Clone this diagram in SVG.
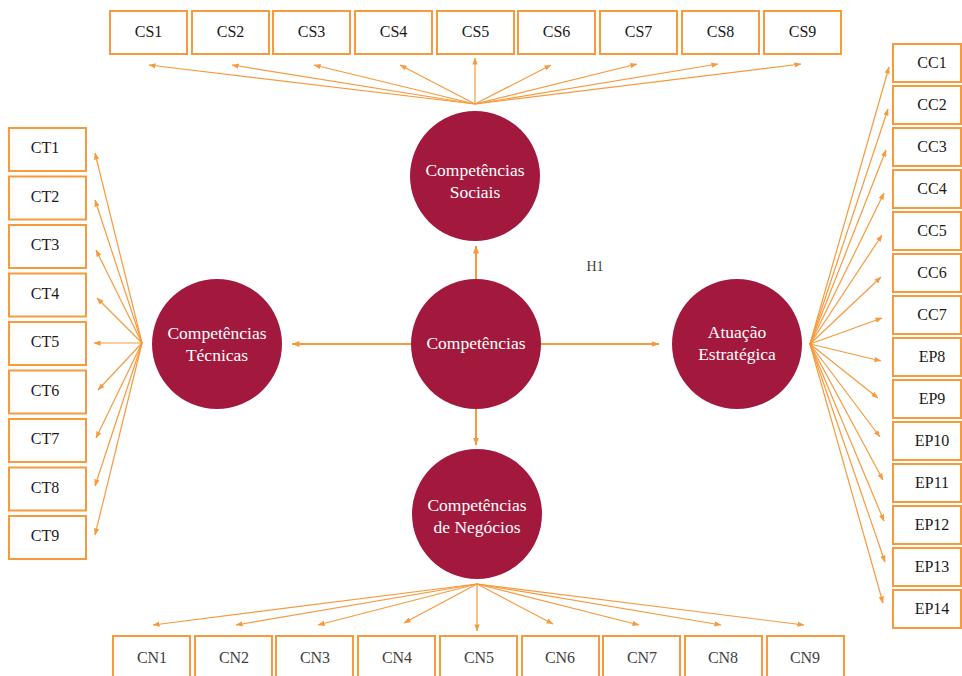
<svg xmlns="http://www.w3.org/2000/svg" width="962" height="676" viewBox="0 0 962 676">
<defs>
<marker id="ah" viewBox="0 0 8 6" refX="7.5" refY="3" markerWidth="7" markerHeight="6" markerUnits="userSpaceOnUse" orient="auto">
<path d="M0,0 L8,3 L0,6 z" fill="#F79A3E"/>
</marker>
<marker id="ahb" viewBox="0 0 8 6" refX="7.5" refY="3" markerWidth="8" markerHeight="7" markerUnits="userSpaceOnUse" orient="auto">
<path d="M0,0 L8,3 L0,6 z" fill="#F79A3E"/>
</marker>
<style>
.box{fill:#fff;stroke:#F79A3E;stroke-width:2}
.bt{font-family:"Liberation Serif","Times New Roman",serif;font-size:16px;fill:#1a1a1a;text-anchor:middle}
.bg{fill:#404040}
.c{fill:#A3193D}
.ct{font-family:"Liberation Serif","Times New Roman",serif;font-size:17.5px;fill:#fff;text-anchor:middle}
.f{stroke:#F79A3E;stroke-width:1.2;fill:none;marker-end:url(#ah)}
.m{stroke:#F79A3E;stroke-width:2;fill:none;marker-end:url(#ahb)}
.h{font-family:"Liberation Serif","Times New Roman",serif;font-size:14px;fill:#404040}
</style>
</defs>
<rect width="962" height="676" fill="#fff"/>
<g id="connectors">
<line class="m" x1="476" y1="279" x2="476" y2="246"/>
<line class="m" x1="411" y1="344" x2="292" y2="344"/>
<line class="m" x1="541" y1="344" x2="659" y2="344"/>
<line class="m" x1="476" y1="408" x2="476" y2="445"/>
<line class="f" x1="475" y1="104" x2="149" y2="65"/>
<line class="f" x1="475" y1="104" x2="232" y2="65"/>
<line class="f" x1="475" y1="104" x2="314" y2="65"/>
<line class="f" x1="475" y1="104" x2="400" y2="65"/>
<line class="f" x1="475" y1="104" x2="475" y2="58"/>
<line class="f" x1="475" y1="104" x2="551" y2="65"/>
<line class="f" x1="475" y1="104" x2="637" y2="64"/>
<line class="f" x1="475" y1="104" x2="718" y2="64"/>
<line class="f" x1="475" y1="104" x2="801" y2="64"/>
<line class="f" x1="142" y1="343" x2="95" y2="153"/>
<line class="f" x1="142" y1="343" x2="95" y2="200"/>
<line class="f" x1="142" y1="343" x2="96" y2="250"/>
<line class="f" x1="142" y1="343" x2="97" y2="298"/>
<line class="f" x1="142" y1="343" x2="94" y2="343"/>
<line class="f" x1="142" y1="343" x2="98" y2="390"/>
<line class="f" x1="142" y1="343" x2="96" y2="438"/>
<line class="f" x1="142" y1="343" x2="95" y2="486"/>
<line class="f" x1="142" y1="343" x2="95" y2="535"/>
<line class="f" x1="810" y1="344" x2="889" y2="67"/>
<line class="f" x1="810" y1="344" x2="888" y2="109"/>
<line class="f" x1="810" y1="344" x2="886" y2="150"/>
<line class="f" x1="810" y1="344" x2="884" y2="193"/>
<line class="f" x1="810" y1="344" x2="882" y2="235"/>
<line class="f" x1="810" y1="344" x2="881" y2="277"/>
<line class="f" x1="810" y1="344" x2="882" y2="318"/>
<line class="f" x1="810" y1="344" x2="881" y2="361"/>
<line class="f" x1="810" y1="344" x2="878" y2="398"/>
<line class="f" x1="810" y1="344" x2="880" y2="437"/>
<line class="f" x1="810" y1="344" x2="883" y2="480"/>
<line class="f" x1="810" y1="344" x2="884" y2="521"/>
<line class="f" x1="810" y1="344" x2="885" y2="562"/>
<line class="f" x1="810" y1="344" x2="883" y2="603"/>
<line class="f" x1="477" y1="584" x2="153" y2="625"/>
<line class="f" x1="477" y1="584" x2="236" y2="625"/>
<line class="f" x1="477" y1="584" x2="318" y2="625"/>
<line class="f" x1="477" y1="584" x2="404" y2="623"/>
<line class="f" x1="477" y1="584" x2="477" y2="631"/>
<line class="f" x1="477" y1="584" x2="553" y2="624"/>
<line class="f" x1="477" y1="584" x2="639" y2="625"/>
<line class="f" x1="477" y1="584" x2="721" y2="625"/>
<line class="f" x1="477" y1="584" x2="804" y2="625"/>
</g>
<g id="circles">
<g id="n-competencias"><circle class="c" cx="476" cy="344" r="65"/><text class="ct" x="476" y="349">Competências</text></g>
<g id="n-sociais"><circle class="c" cx="475" cy="176" r="65"/><text class="ct" x="475" y="176">Competências</text><text class="ct" x="475" y="198">Sociais</text></g>
<g id="n-tecnicas"><circle class="c" cx="217" cy="344" r="65"/><text class="ct" x="217" y="339">Competências</text><text class="ct" x="217" y="361">Técnicas</text></g>
<g id="n-atuacao"><circle class="c" cx="737" cy="344" r="65"/><text class="ct" x="737" y="338">Atuação</text><text class="ct" x="737" y="360">Estratégica</text></g>
<g id="n-negocios"><circle class="c" cx="477" cy="514" r="65"/><text class="ct" x="477" y="511">Competências</text><text class="ct" x="477" y="533">de Negócios</text></g>
</g>
<text class="h" x="595" y="271" text-anchor="middle">H1</text>
<g id="top">
<g id="CS1"><rect class="box" x="110" y="11" width="77" height="43"/><text class="bt" x="148.5" y="37">CS1</text></g>
<g id="CS2"><rect class="box" x="192" y="11" width="77" height="43"/><text class="bt" x="230.5" y="37">CS2</text></g>
<g id="CS3"><rect class="box" x="273" y="11" width="77" height="43"/><text class="bt" x="311.5" y="37">CS3</text></g>
<g id="CS4"><rect class="box" x="355" y="11" width="77" height="43"/><text class="bt" x="393.5" y="37">CS4</text></g>
<g id="CS5"><rect class="box" x="437" y="11" width="77" height="43"/><text class="bt" x="475.5" y="37">CS5</text></g>
<g id="CS6"><rect class="box" x="518" y="11" width="77" height="43"/><text class="bt" x="556.5" y="37">CS6</text></g>
<g id="CS7"><rect class="box" x="600" y="11" width="77" height="43"/><text class="bt" x="638.5" y="37">CS7</text></g>
<g id="CS8"><rect class="box" x="682" y="11" width="77" height="43"/><text class="bt" x="720.5" y="37">CS8</text></g>
<g id="CS9"><rect class="box" x="764" y="11" width="77" height="43"/><text class="bt" x="802.5" y="37">CS9</text></g>
</g>
<g id="left">
<g id="CT1"><rect class="box" x="9" y="128" width="77" height="43"/><text class="bt" x="45" y="153">CT1</text></g>
<g id="CT2"><rect class="box" x="9" y="176.5" width="77" height="43"/><text class="bt" x="45" y="201.5">CT2</text></g>
<g id="CT3"><rect class="box" x="9" y="225" width="77" height="43"/><text class="bt" x="45" y="250">CT3</text></g>
<g id="CT4"><rect class="box" x="9" y="273.5" width="77" height="43"/><text class="bt" x="45" y="298.5">CT4</text></g>
<g id="CT5"><rect class="box" x="9" y="322" width="77" height="43"/><text class="bt" x="45" y="347">CT5</text></g>
<g id="CT6"><rect class="box" x="9" y="370.5" width="77" height="43"/><text class="bt" x="45" y="395.5">CT6</text></g>
<g id="CT7"><rect class="box" x="9" y="419" width="77" height="43"/><text class="bt" x="45" y="444">CT7</text></g>
<g id="CT8"><rect class="box" x="9" y="467.5" width="77" height="43"/><text class="bt" x="45" y="492.5">CT8</text></g>
<g id="CT9"><rect class="box" x="9" y="516" width="77" height="43"/><text class="bt" x="45" y="541">CT9</text></g>
</g>
<g id="right">
<g id="CC1"><rect class="box" x="893" y="44" width="68" height="38"/><text class="bt" x="932" y="68">CC1</text></g>
<g id="CC2"><rect class="box" x="893" y="86" width="68" height="38"/><text class="bt" x="932" y="110">CC2</text></g>
<g id="CC3"><rect class="box" x="893" y="128" width="68" height="38"/><text class="bt" x="932" y="152">CC3</text></g>
<g id="CC4"><rect class="box" x="893" y="170" width="68" height="38"/><text class="bt" x="932" y="194">CC4</text></g>
<g id="CC5"><rect class="box" x="893" y="212" width="68" height="38"/><text class="bt" x="932" y="236">CC5</text></g>
<g id="CC6"><rect class="box" x="893" y="254" width="68" height="38"/><text class="bt" x="932" y="278">CC6</text></g>
<g id="CC7"><rect class="box" x="893" y="296" width="68" height="38"/><text class="bt" x="932" y="320">CC7</text></g>
<g id="EP8"><rect class="box" x="893" y="338" width="68" height="38"/><text class="bt" x="932" y="362">EP8</text></g>
<g id="EP9"><rect class="box" x="893" y="380" width="68" height="38"/><text class="bt" x="932" y="404">EP9</text></g>
<g id="EP10"><rect class="box" x="893" y="422" width="68" height="38"/><text class="bt" x="932" y="446">EP10</text></g>
<g id="EP11"><rect class="box" x="893" y="464" width="68" height="38"/><text class="bt" x="932" y="488">EP11</text></g>
<g id="EP12"><rect class="box" x="893" y="506" width="68" height="38"/><text class="bt" x="932" y="530">EP12</text></g>
<g id="EP13"><rect class="box" x="893" y="548" width="68" height="38"/><text class="bt" x="932" y="572">EP13</text></g>
<g id="EP14"><rect class="box" x="893" y="590" width="68" height="38"/><text class="bt" x="932" y="614">EP14</text></g>
</g>
<g id="bottom">
<g id="CN1"><rect class="box" x="113" y="636" width="77" height="44"/><text class="bt bg" x="152" y="663">CN1</text></g>
<g id="CN2"><rect class="box" x="195" y="636" width="77" height="44"/><text class="bt bg" x="234" y="663">CN2</text></g>
<g id="CN3"><rect class="box" x="276" y="636" width="77" height="44"/><text class="bt bg" x="315" y="663">CN3</text></g>
<g id="CN4"><rect class="box" x="358" y="636" width="77" height="44"/><text class="bt bg" x="397" y="663">CN4</text></g>
<g id="CN5"><rect class="box" x="440" y="636" width="77" height="44"/><text class="bt bg" x="479" y="663">CN5</text></g>
<g id="CN6"><rect class="box" x="522" y="636" width="77" height="44"/><text class="bt bg" x="560" y="663">CN6</text></g>
<g id="CN7"><rect class="box" x="603" y="636" width="77" height="44"/><text class="bt bg" x="642" y="663">CN7</text></g>
<g id="CN8"><rect class="box" x="685" y="636" width="77" height="44"/><text class="bt bg" x="723" y="663">CN8</text></g>
<g id="CN9"><rect class="box" x="767" y="636" width="77" height="44"/><text class="bt bg" x="805" y="663">CN9</text></g>
</g>
</svg>
